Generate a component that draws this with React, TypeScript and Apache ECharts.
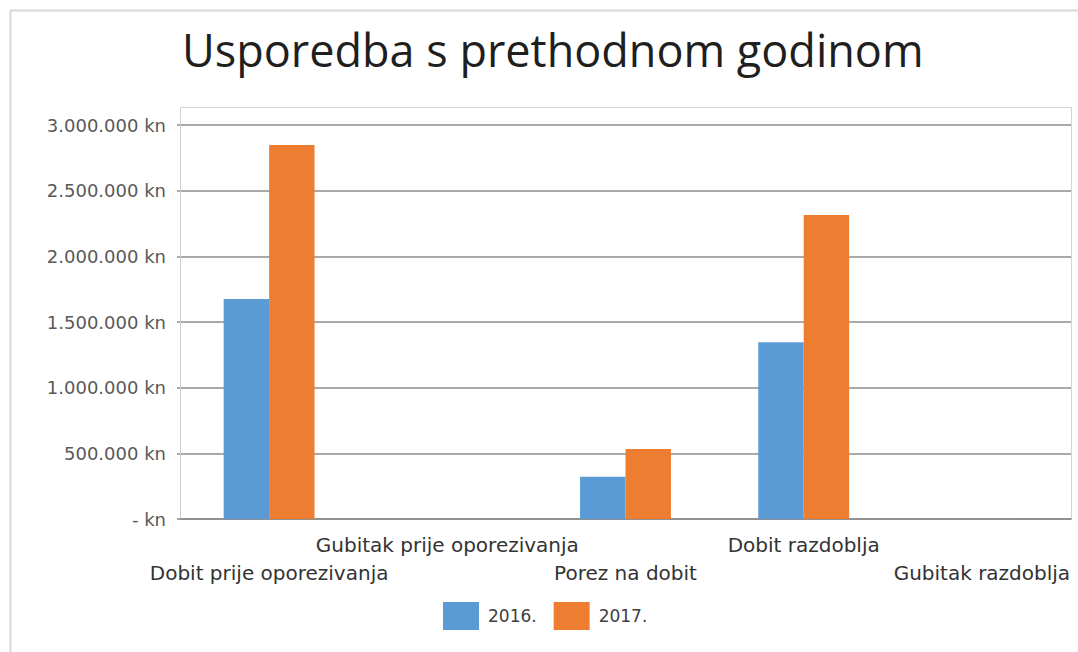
import React, { useEffect, useRef } from "react";
import * as echarts from "echarts";

const categories = [
  "Dobit prije oporezivanja",
  "Gubitak prije oporezivanja",
  "Porez na dobit",
  "Dobit razdoblja",
  "Gubitak razdoblja",
];
const values2016 = [1676000, 0, 322000, 1346000, 0];
const values2017 = [2848000, 0, 533000, 2315000, 0];
const seriesNames = ["2016.", "2017."];
const titleText = "Usporedba s prethodnom godinom";

function formatKn(v: number): string {
  if (v === 0) return "- kn";
  const s = Math.round(v).toString().replace(/\B(?=(\d{3})+(?!\d))/g, ".");
  return s + " kn";
}

export default function App() {
  const ref = useRef<HTMLDivElement>(null);
  useEffect(() => {
    if (!ref.current) return;
    const chart = echarts.init(ref.current, undefined, { renderer: "svg" });
    chart.setOption({
      animation: false,
      backgroundColor: "#ffffff",
      title: {
        text: titleText,
        left: 177,
        top: 22,
        textStyle: {
          fontFamily: "Open Sans",
          fontSize: 45,
          fontWeight: "normal",
          color: "#1f1f1f",
        },
      },
      legend: {
        data: seriesNames,
        left: 438,
        top: 597,
        itemWidth: 36,
        itemHeight: 28,
        itemGap: 17,
        icon: "rect",
        textStyle: {
          fontFamily: "DejaVu Sans",
          fontSize: 17,
          color: "#404040",
          padding: [0, 0, 0, 4],
        },
      },
      graphic: [
        {
          type: "rect",
          shape: { x: 10.5, y: 10.5, width: 1080, height: 660 },
          style: { fill: "none", stroke: "#d9d9d9", lineWidth: 2 },
          silent: true,
        },
        {
          type: "rect",
          shape: { x: 180.5, y: 107.5, width: 891, height: 412 },
          style: { fill: "none", stroke: "#d4d4d4", lineWidth: 1 },
          silent: true,
        },
      ],
      grid: {
        left: 180,
        right: 7,
        top: 125,
        bottom: 133,
        containLabel: false,
      },
      xAxis: {
        type: "category",
        data: categories,
        axisLine: { show: true, lineStyle: { color: "#8c8c8c", width: 1.5 } },
        axisTick: { show: false },
        axisLabel: {
          interval: 0,
          margin: 12,
          fontFamily: "DejaVu Sans",
          fontSize: 20,
          lineHeight: 28,
          color: "#333333",
          formatter: (v: string, i: number) => (i % 2 === 0 ? "\n" + v : v),
        },
      },
      yAxis: {
        type: "value",
        min: 0,
        max: 3000000,
        interval: 500000,
        axisLine: { show: true, lineStyle: { color: "#d0d0d0", width: 1 } },
        axisTick: { show: true, length: 3, lineStyle: { color: "#8c8c8c", width: 1.5 } },
        splitLine: { show: true, lineStyle: { color: "#8c8c8c", width: 1.5 } },
        axisLabel: {
          margin: 14,
          fontFamily: "DejaVu Sans",
          fontSize: 18,
          color: "#595959",
          formatter: (v: number) => formatKn(v),
        },
      },
      series: [
        {
          name: seriesNames[0],
          type: "bar",
          data: values2016,
          barGap: "0%",
          barCategoryGap: "49%",
          itemStyle: { color: "#5B9BD5" },
        },
        {
          name: seriesNames[1],
          type: "bar",
          data: values2017,
          barGap: "0%",
          barCategoryGap: "49%",
          itemStyle: { color: "#ED7D31" },
        },
      ],
    });
    return () => chart.dispose();
  }, []);
  return (
    <div
      ref={ref}
      style={{ position: "absolute", left: 0, top: 0, width: 1078, height: 652 }}
    />
  );
}
